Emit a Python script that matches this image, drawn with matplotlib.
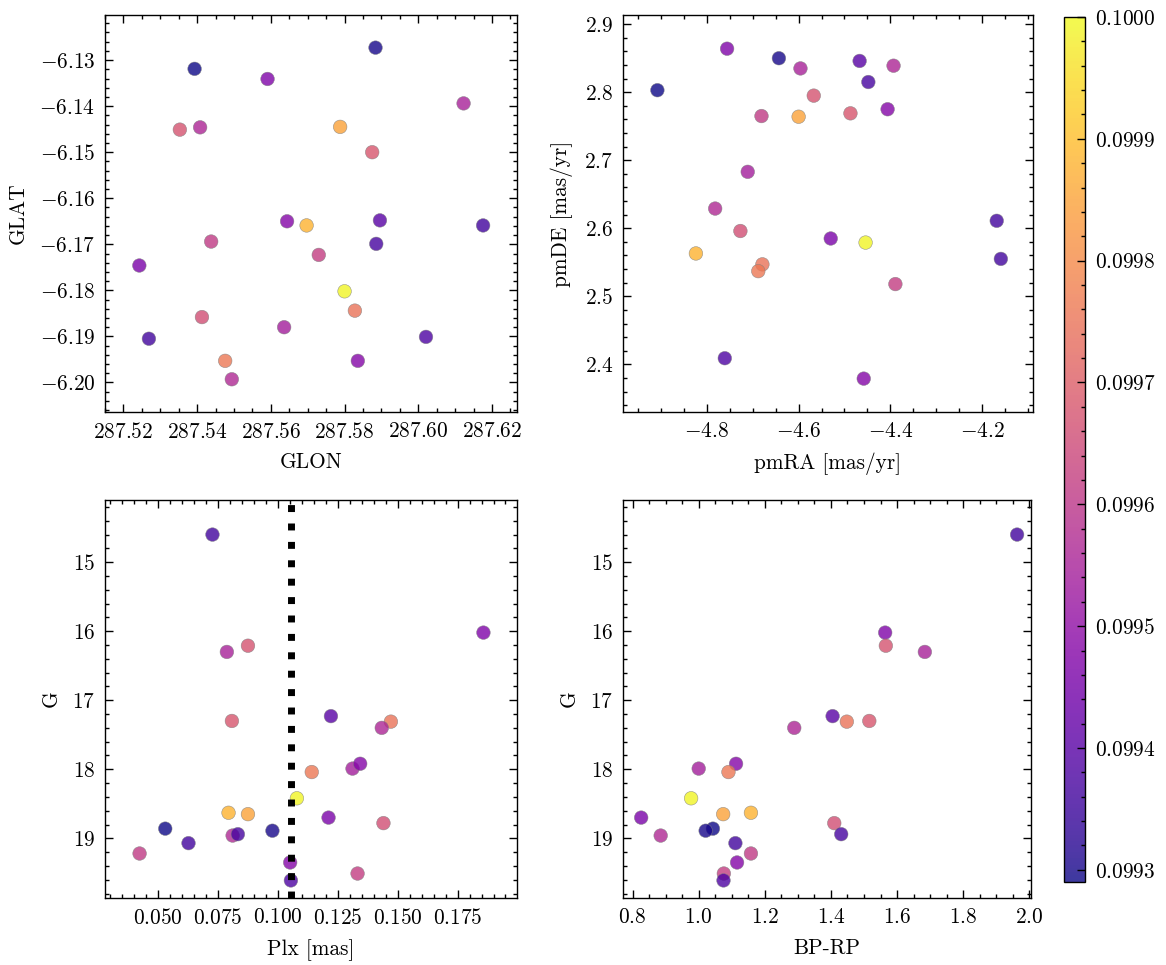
import matplotlib
matplotlib.use('Agg')
import matplotlib.pyplot as plt
from matplotlib.ticker import AutoMinorLocator, MultipleLocator, FormatStrFormatter

# Datos de las estrellas del cúmulo
glon = [287.6176, 287.5591, 287.5353, 287.6123, 287.5896, 287.5828, 287.5875, 287.5408,
        287.5636, 287.5644, 287.5476, 287.5800, 287.5788, 287.5697, 287.5243, 287.5413,
        287.5393, 287.5884, 287.5494, 287.5886, 287.5269, 287.5438, 287.5836, 287.5730,
        287.6021]
glat = [-6.1659, -6.1341, -6.1451, -6.1394, -6.1648, -6.1844, -6.1500, -6.1446,
        -6.1880, -6.1650, -6.1953, -6.1802, -6.1445, -6.1659, -6.1746, -6.1858,
        -6.1319, -6.1273, -6.1993, -6.1699, -6.1905, -6.1694, -6.1953, -6.1723,
        -6.1901]
pmra = [-4.168, -4.756, -4.567, -4.596, -4.467, -4.679, -4.487, -4.393,
        -4.711, -4.406, -4.688, -4.454, -4.600, -4.824, -4.530, -4.727,
        -4.908, -4.643, -4.782, -4.448, -4.159, -4.681, -4.458, -4.389,
        -4.761]
pmde = [2.611, 2.864, 2.795, 2.835, 2.846, 2.547, 2.769, 2.839,
        2.683, 2.775, 2.537, 2.579, 2.764, 2.563, 2.585, 2.596,
        2.803, 2.850, 2.629, 2.815, 2.555, 2.765, 2.379, 2.518,
        2.409]
plx = [0.0728, 0.1858, 0.0876, 0.0788, 0.1222, 0.1472, 0.0809, 0.1434,
       0.1312, 0.1344, 0.1142, 0.1080, 0.0876, 0.0795, 0.1212, 0.1441,
       0.0531, 0.0978, 0.0812, 0.0834, 0.0628, 0.0424, 0.1052, 0.1333,
       0.1055]
gmag = [14.60, 16.02, 16.21, 16.30, 17.23, 17.31, 17.30, 17.40,
        17.99, 17.92, 18.04, 18.42, 18.65, 18.63, 18.70, 18.78,
        18.86, 18.89, 18.96, 18.94, 19.07, 19.22, 19.35, 19.51,
        19.61]
bp_rp = [1.963, 1.564, 1.566, 1.684, 1.405, 1.448, 1.516, 1.289,
         1.000, 1.113, 1.090, 0.977, 1.074, 1.158, 0.826, 1.410,
         1.043, 1.021, 0.885, 1.431, 1.111, 1.158, 1.116, 1.076,
         1.075]
prob = [0.09936, 0.09947, 0.09967, 0.09955, 0.09940, 0.09975, 0.09968, 0.09956,
        0.09954, 0.09948, 0.09976, 0.09999, 0.09985, 0.09988, 0.09946, 0.09966,
        0.09929, 0.09930, 0.09957, 0.09937, 0.09936, 0.09961, 0.09948, 0.09962,
        0.09938]
plx_cut = 0.1055

plt.rcParams.update({
    'font.family': 'serif',
    'font.serif': ['cmr10'],
    'mathtext.fontset': 'cm',
    'axes.formatter.use_mathtext': True,
    'axes.unicode_minus': True,
    'font.size': 7.7,
    'axes.linewidth': 0.5,
    'xtick.direction': 'in',
    'ytick.direction': 'in',
    'xtick.top': True,
    'ytick.right': True,
    'xtick.major.size': 3,
    'ytick.major.size': 3,
    'xtick.minor.size': 1.5,
    'ytick.minor.size': 1.5,
    'xtick.major.width': 0.5,
    'ytick.major.width': 0.5,
    'xtick.minor.width': 0.5,
    'ytick.minor.width': 0.5,
    'xtick.minor.visible': True,
    'ytick.minor.visible': True,
})

fig = plt.figure(figsize=(5.83, 4.825), dpi=200)
ax1 = fig.add_axes([0.0901, 0.5731, 0.3533, 0.4114])
ax2 = fig.add_axes([0.5343, 0.5731, 0.3516, 0.4114])
ax3 = fig.add_axes([0.0901, 0.0694, 0.3533, 0.4124])
ax4 = fig.add_axes([0.5343, 0.0694, 0.3499, 0.4124])
cax = fig.add_axes([0.9125, 0.0860, 0.0180, 0.8964])

kw = dict(c=prob, cmap='plasma', vmin=0.09929, vmax=0.1, s=24, alpha=0.8,
          edgecolors='gray', linewidths=0.2)

ax1.scatter(glon, glat, **kw)
ax1.set_xlim(287.5150, 287.6268)
ax1.set_ylim(-6.2064, -6.1202)
ax1.xaxis.set_major_locator(MultipleLocator(0.02))
ax1.yaxis.set_major_locator(MultipleLocator(0.01))
ax1.set_xlabel('GLON')
ax1.set_ylabel('GLAT')

ax2.scatter(pmra, pmde, **kw)
ax2.set_xlim(-4.983, -4.089)
ax2.set_ylim(2.330, 2.9136)
ax2.xaxis.set_major_locator(MultipleLocator(0.2))
ax2.yaxis.set_major_locator(MultipleLocator(0.1))
ax2.set_xlabel('pmRA [mas/yr]')
ax2.set_ylabel('pmDE [mas/yr]')

ax3.scatter(plx, gmag, **kw)
# linea de corte en paralaje, por encima de los puntos
ax3.axvline(plx_cut, color='k', linestyle=':', linewidth=2.5, zorder=3)
ax3.set_xlim(0.028, 0.1998)
ax3.set_ylim(19.865, 14.10)
ax3.xaxis.set_major_locator(MultipleLocator(0.025))
ax3.xaxis.set_major_formatter(FormatStrFormatter(r'$%.3f$'))
ax3.yaxis.set_major_locator(MultipleLocator(1))
ax3.set_xlabel('Plx [mas]')
ax3.set_ylabel('G')

sc = ax4.scatter(bp_rp, gmag, **kw)
ax4.set_xlim(0.771, 2.005)
ax4.set_ylim(19.865, 14.10)
ax4.xaxis.set_major_locator(MultipleLocator(0.2))
ax4.yaxis.set_major_locator(MultipleLocator(1))
ax4.set_xlabel('BP-RP')
ax4.set_ylabel('G')

for ax in (ax1, ax2, ax3, ax4):
    ax.xaxis.set_minor_locator(AutoMinorLocator())
    ax.yaxis.set_minor_locator(AutoMinorLocator())

cb = fig.colorbar(sc, cax=cax)
cb.solids.set_alpha(0.8)
cb.set_ticks([0.0993, 0.0994, 0.0995, 0.0996, 0.0997, 0.0998, 0.0999, 0.1000])
cb.ax.yaxis.set_major_formatter(FormatStrFormatter(r'$%.4f$'))
cb.ax.yaxis.set_minor_locator(MultipleLocator(0.00002))
cb.ax.tick_params(which='both', direction='in')
cb.outline.set_linewidth(0.5)

fig.savefig('out.png', dpi=200)
